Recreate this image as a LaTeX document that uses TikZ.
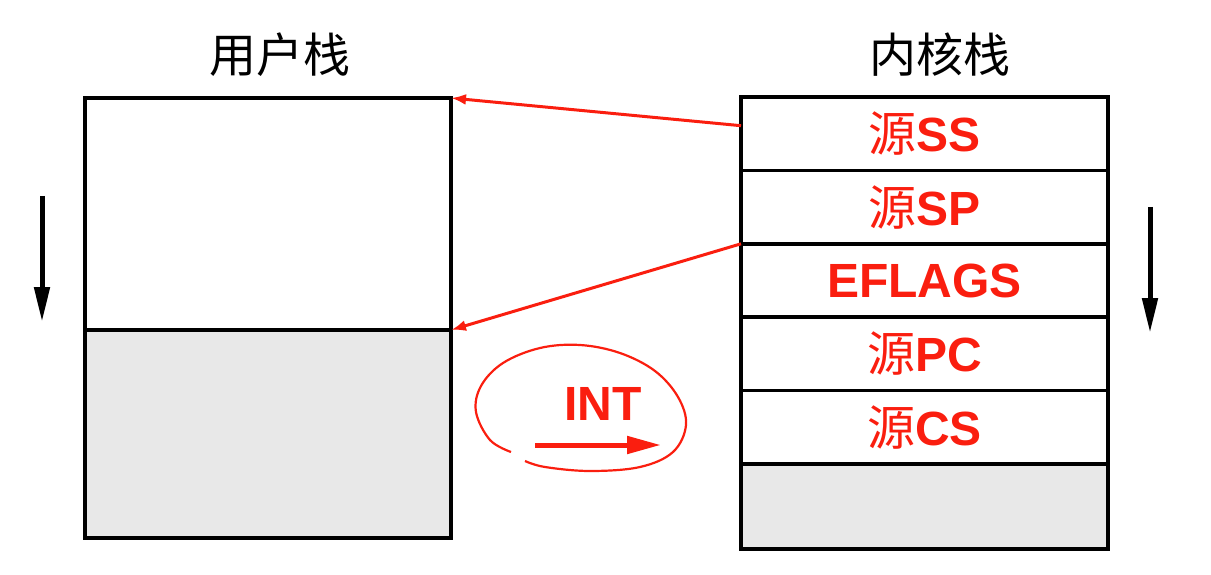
\documentclass[tikz,border=0pt]{standalone}
\usepackage{fontspec}
\setmainfont{Liberation Sans}
\newfontfamily\cjk{Noto Sans CJK SC}
\usetikzlibrary{positioning,arrows.meta}
\definecolor{srcred}{RGB}{250,30,15}
\definecolor{stackgray}{RGB}{232,232,232}
\newcommand{\srcchar}{{\cjk\mdseries 源}}
\tikzset{
  cell/.style={draw, rectangle, line width=3.5pt, minimum width=367pt, minimum height=73.4pt,
    inner sep=0pt, outer sep=0pt, text=srcred, font=\fontsize{48}{54}\selectfont\bfseries},
  title/.style={font=\cjk\fontsize{47}{52}\selectfont},
  redlink/.style={srcred, line width=3pt, -{Latex[length=15pt,width=11pt]}},
  growarrow/.style={line width=5pt, -{Triangle[length=35pt,width=15pt]}}
}
\begin{document}
\begin{tikzpicture}[x=1pt,y=-1pt]
        \useasboundingbox (0,0) rectangle (1211,575);

        % user stack
        \node[title] (utitle) at (280,55) {用户栈};
        \node[cell, minimum width=366pt, minimum height=232pt] (utop) at (268,214) {};
        \node[cell, fill=stackgray, minimum width=366pt, minimum height=208pt, below=0pt of utop] (ubot) {};

        % kernel stack
        \node[title] (ktitle) at (940,55) {内核栈};
        \node[cell] (kss) at (924.5,133.7) {\srcchar SS};
        \node[cell, below=0pt of kss] (ksp) {\srcchar SP};
        \node[cell, below=0pt of ksp] (kflags) {EFLAGS};
        \node[cell, below=0pt of kflags] (kpc) {\srcchar PC};
        \node[cell, below=0pt of kpc] (kcs) {\srcchar CS};
        \node[cell, fill=stackgray, minimum height=85pt, below=0pt of kcs] (kbase) {};

        % saved pointers
        \draw[redlink] ([yshift=8pt]kss.west) -- (utop.north east);
        \draw[redlink] (ksp.south west) -- (utop.south east);

        % growth direction
        \coordinate (ugrow) at (42,196);
        \coordinate (ugrowend) at (42,322);
        \coordinate (kgrow) at (1150,207);
        \coordinate (kgrowend) at (1150,333);
        \draw[growarrow] (ugrow) -- (ugrowend);
        \draw[growarrow] (kgrow) -- (kgrowend);

        % interrupt
        \node[text=srcred, font=\fontsize{48}{54}\selectfont\bfseries] (intlabel) at (603,404) {INT};
        \coordinate (intstart) at (535,445);
        \coordinate (intend) at (661,445);
        \draw[srcred, line width=5pt, -{Triangle[length=34pt,width=17pt]}] (intstart) -- (intend);
        \draw[srcred, line width=2.2pt] plot[smooth, tension=0.6] coordinates {
          (511,452) (490,440) (476,412) (481,386) (503,363) (540,348) (580,345)
          (620,353) (655,371) (678,397) (686,425) (673,452) (640,467) (590,471)
          (545,467) (525,461)};
\end{tikzpicture}
\end{document}
